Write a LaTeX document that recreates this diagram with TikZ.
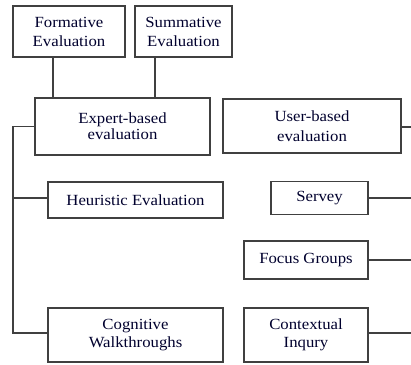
\documentclass[tikz,border=0pt]{standalone}
\usepackage{fontspec}
\setmainfont[FakeStretch=1.08]{Liberation Serif}
\begin{document}
\begin{tikzpicture}[x=1pt,y=-1pt,
  box/.style={draw=black!75,line width=1.3pt,fill=white,align=center,inner sep=0pt,
    text=black!80!blue!90!black,font=\fontsize{15.5}{19}\selectfont},
  conn/.style={draw=black!75,line width=1.3pt}]
\useasboundingbox (0,0) rectangle (411,364);
\node[box,minimum width=112pt,minimum height=51pt] (form) at (69,31.5) {Formative\\Evaluation};
\node[box,minimum width=97pt,minimum height=51pt] (summ) at (183.5,31.5) {Summative\\Evaluation};
\node[box,minimum width=175pt,minimum height=57pt,font=\fontsize{15.5}{16}\selectfont] (expert) at (122.5,126.5) {Expert-based\\evaluation};
\node[box,minimum width=178pt,minimum height=54pt,font=\fontsize{15.5}{20.5}\selectfont] (user) at (312,126) {User-based\\evaluation};
\node[box,minimum width=175pt,minimum height=36pt] (heur) at (135.5,200) {Heuristic Evaluation};
\node[box,minimum width=175pt,minimum height=54pt,font=\fontsize{15.5}{18}\selectfont] (cog) at (135.5,335) {Cognitive\\Walkthroughs};
\node[box,minimum width=97pt,minimum height=33pt] (serv) at (319.5,198) {Servey};
\node[box,minimum width=124pt,minimum height=38pt] (focus) at (306,260) {Focus Groups};
\node[box,minimum width=124pt,minimum height=54pt,font=\fontsize{15.5}{17.5}\selectfont] (ctx) at (306,335) {Contextual\\Inqury};
\coordinate (ltop) at (13,126.5);
\coordinate (lbot) at (13,333);
\coordinate (lmid) at (13,198);
\coordinate (r1) at (411,127);
\coordinate (r2) at (411,198);
\coordinate (r3) at (411,260);
\coordinate (r4) at (411,333);
\draw[conn] (form.south -| 53,0) -- (expert.north -| 53,0);
\draw[conn] (summ.south -| 155,0) -- (expert.north -| 155,0);
\draw[conn] (expert.west) -- (ltop) -- (lbot) -- (cog.west |- lbot);
\draw[conn] (lmid) -- (heur.west |- lmid);
\draw[conn] (user.east |- r1) -- (r1);
\draw[conn] (serv.east) -- (r2);
\draw[conn] (focus.east) -- (r3);
\draw[conn] (ctx.east |- r4) -- (r4);
\end{tikzpicture}
\end{document}
